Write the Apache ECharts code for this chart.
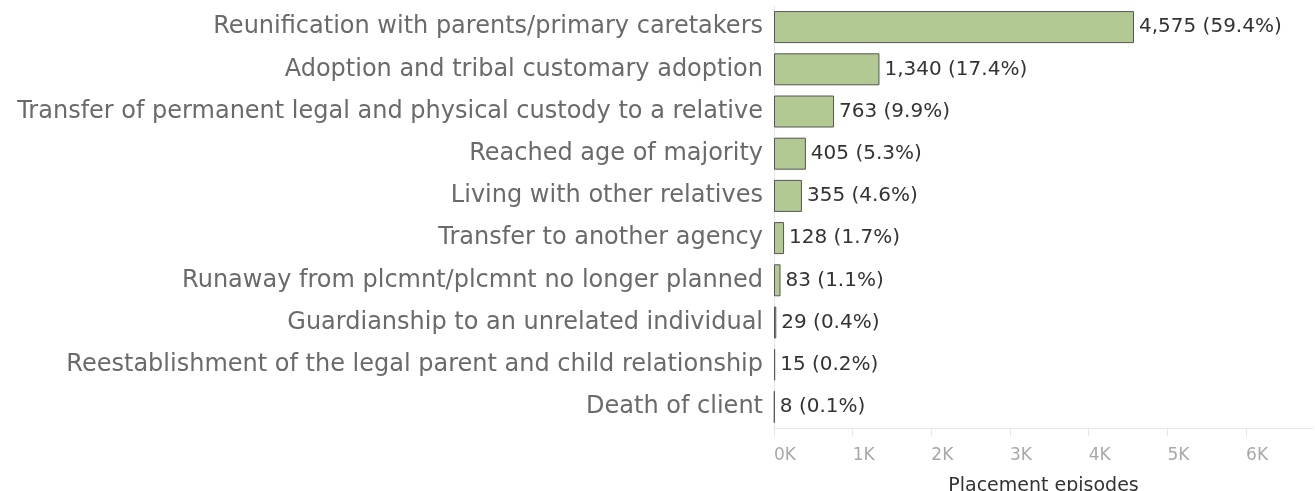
<!DOCTYPE html>
<html>
<head>
<meta charset="utf-8">
<script src="https://cdn.jsdelivr.net/npm/echarts@6/dist/echarts.min.js"></script>
<style>
  html, body { margin: 0; padding: 0; background: #fff; }
  #main { width: 1315px; height: 491px; }
</style>
</head>
<body>
<div id="main"></div>
<script>
// placement episode outcomes
var categories = [
  'Reunification with parents/primary caretakers',
  'Adoption and tribal customary adoption',
  'Transfer of permanent legal and physical custody to a relative',
  'Reached age of majority',
  'Living with other relatives',
  'Transfer to another agency',
  'Runaway from plcmnt/plcmnt no longer planned',
  'Guardianship to an unrelated individual',
  'Reestablishment of the legal parent and child relationship',
  'Death of client'
];
var episodes = [4575, 1340, 763, 405, 355, 128, 83, 29, 15, 8];
var percents = ['59.4%', '17.4%', '9.9%', '5.3%', '4.6%', '1.7%', '1.1%', '0.4%', '0.2%', '0.1%'];

var chart = echarts.init(document.getElementById('main'));

var option = {
  animation: false,
  grid: {
    left: 774,
    right: 2,
    top: 6,
    bottom: 63,
    outerBoundsMode: 'none'
  },
  xAxis: {
    type: 'value',
    min: 0,
    max: 6850,
    interval: 1000,
    name: 'Placement episodes',
    nameLocation: 'middle',
    nameGap: 49,
    nameTextStyle: { fontFamily: 'DejaVu Sans', fontSize: 19, color: '#333' },
    axisLine: { show: true, lineStyle: { color: '#e6e6e6' } },
    axisTick: { show: true, length: 8, lineStyle: { color: '#e6e6e6' } },
    splitLine: { show: false },
    axisLabel: {
      fontFamily: 'DejaVu Sans',
      fontSize: 17,
      color: '#a8a8a8',
      align: 'left',
      margin: 19,
      showMaxLabel: false,
      formatter: function (v) { return (v / 1000) + 'K'; }
    }
  },
  yAxis: {
    type: 'category',
    inverse: true,
    data: categories,
    axisLine: { show: true, lineStyle: { color: '#e6e6e6' } },
    axisTick: { show: false },
    axisLabel: {
      fontFamily: 'DejaVu Sans',
      fontSize: 24,
      color: '#6a6a6a',
      margin: 11
    }
  },
  series: [{
    type: 'bar',
    data: episodes,
    barWidth: 32,
    itemStyle: { color: '#b3c994', borderColor: '#555', borderWidth: 1 },
    label: {
      show: true,
      position: 'right',
      distance: 5,
      fontFamily: 'DejaVu Sans',
      fontSize: 20,
      color: '#333',
      formatter: function (p) {
        return p.value.toLocaleString('en-US') + ' (' + percents[p.dataIndex] + ')';
      }
    }
  }]
};

chart.setOption(option);
</script>
</body>
</html>
